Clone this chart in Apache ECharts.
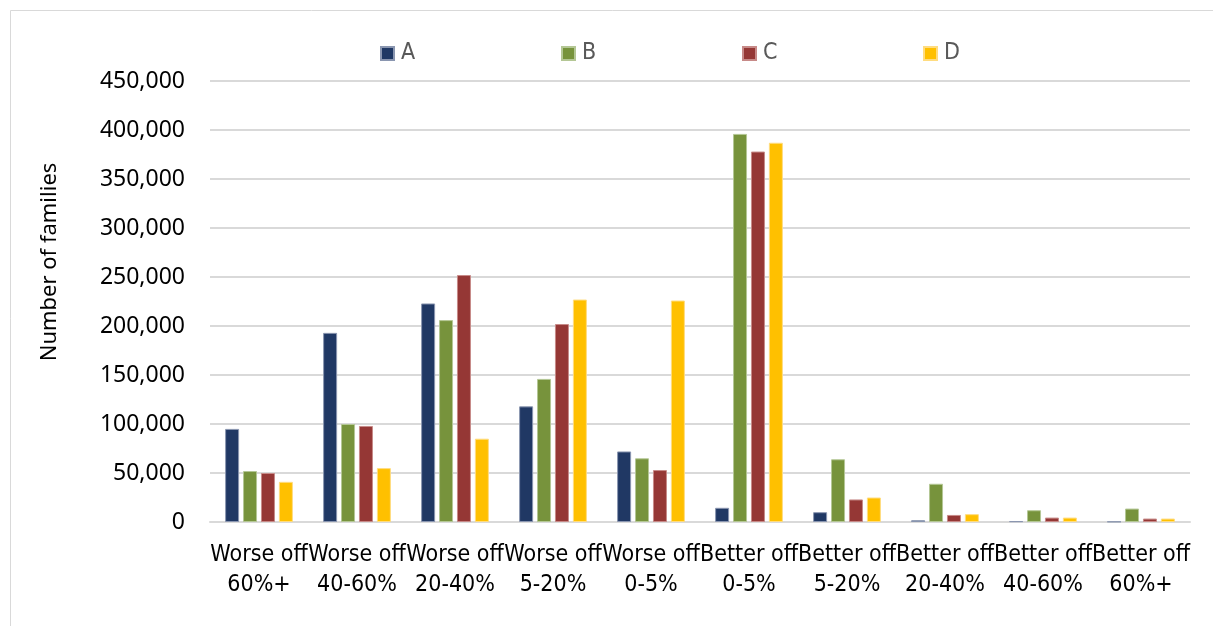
<!DOCTYPE html>
<html>
<head>
<meta charset="utf-8">
<script src="https://cdn.jsdelivr.net/npm/echarts@6/dist/echarts.min.js"></script>
<style>
  html, body { margin: 0; padding: 0; background: #fff; }
  #chart { width: 1213px; height: 626px; }
</style>
</head>
<body>
<div id="chart"></div>
<script>
// Change in family position, grouped by band
const categories = [
  'Worse off\n60%+', 'Worse off\n40-60%', 'Worse off\n20-40%', 'Worse off\n5-20%', 'Worse off\n0-5%',
  'Better off\n0-5%', 'Better off\n5-20%', 'Better off\n20-40%', 'Better off\n40-60%', 'Better off\n60%+'
];
const seriesA = [95000, 193000, 223000, 118000, 72000, 14500, 10000, 1800, 800, 400];
const seriesB = [52000, 100000, 206000, 146000, 65000, 396000, 64000, 39000, 12000, 13700];
const seriesC = [50000, 98000, 252000, 202000, 53000, 378000, 23000, 7200, 4500, 3500];
const seriesD = [41000, 55000, 85000, 227000, 226000, 387000, 25000, 8000, 4500, 3500];
const seriesNames = ['A', 'B', 'C', 'D'];
const yTicks = { min: 0, max: 450000, interval: 50000 };

const colors = ['#203864', '#77933C', '#953735', '#FFC000'];
const edges = ['#8a96b0', '#b4c795', '#c78a88', '#ffdc80'];
// condensed face of DejaVu Sans, selected through the canvas font shorthand
const narrowFamily = '"DejaVu Sans", sans-serif';
const legendLeft = [380, 561, 742, 923];

const chart = echarts.init(document.getElementById('chart'));
const values = [seriesA, seriesB, seriesC, seriesD];

chart.setOption({
  animation: false,
  backgroundColor: '#fff',
  color: colors,
  graphic: [
    {
      type: 'rect',
      shape: { x: 10.5, y: 10.5, width: 1240, height: 660 },
      style: { fill: 'none', stroke: '#d9d9d9', lineWidth: 1 },
      silent: true
    },
    {
      type: 'text',
      x: 50, y: 262,
      rotation: Math.PI / 2,
      style: {
        text: 'Number of families',
        font: '22px "Noto Sans", sans-serif',
        fill: '#000',
        align: 'center',
        verticalAlign: 'middle'
      }
    }
  ],
  // one legend per series so each entry sits in its own slot
  legend: seriesNames.map((name, i) => ({
    top: 42,
    left: legendLeft[i],
    itemWidth: 13,
    itemHeight: 13,
    itemGap: 7,
    icon: 'rect',
    padding: 0,
    textStyle: { fontStyle: 'condensed', fontFamily: narrowFamily, fontSize: 23, color: '#595959', padding: [0, 0, 0, 2] },
    data: [name]
  })),
  grid: { left: 210, right: 23, top: 81, bottom: 104, containLabel: false },
  xAxis: {
    type: 'category',
    data: categories,
    axisLine: { lineStyle: { color: '#d9d9d9', width: 2 } },
    axisTick: { show: false },
    axisLabel: {
      interval: 0,
      margin: 18,
      fontStyle: 'condensed',
      fontFamily: narrowFamily,
      fontSize: 23,
      lineHeight: 30,
      color: '#000'
    }
  },
  yAxis: {
    type: 'value',
    min: yTicks.min,
    max: yTicks.max,
    interval: yTicks.interval,
    axisLine: { show: false },
    axisTick: { show: false },
    splitLine: { lineStyle: { color: '#d9d9d9', width: 2 } },
    axisLabel: {
      margin: 25,
      fontFamily: '"Noto Sans", sans-serif',
      fontSize: 23,
      color: '#000',
      formatter: v => v.toLocaleString('en-US')
    }
  },
  series: seriesNames.map((name, i) => ({
    name,
    type: 'bar',
    data: values[i],
    barWidth: 14,
    barGap: '28%',
    itemStyle: { color: colors[i], borderColor: edges[i], borderWidth: 1 }
  }))
});
</script>
</body>
</html>
